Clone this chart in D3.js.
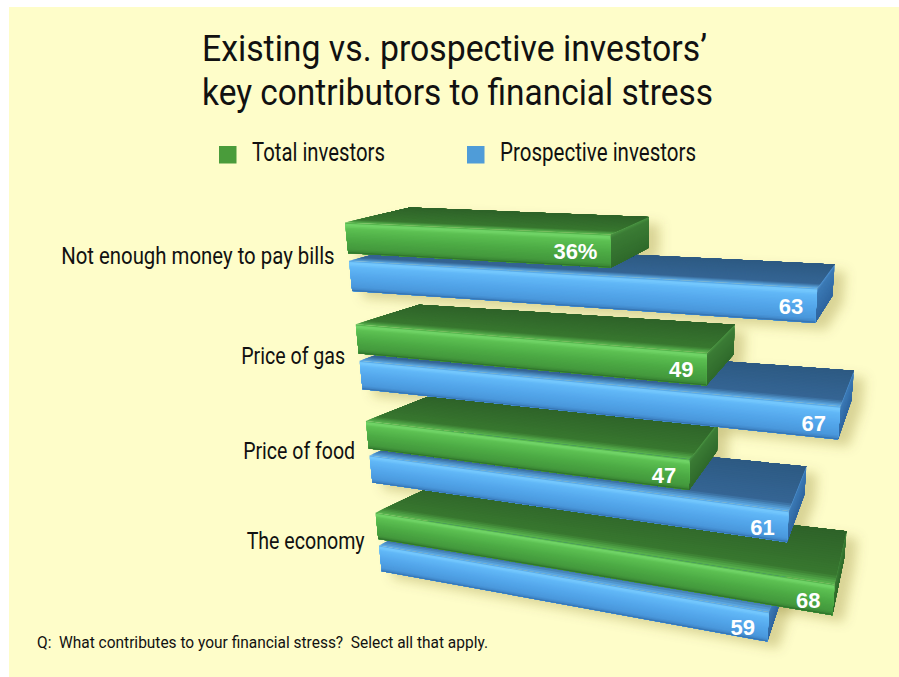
<!DOCTYPE html>
<html>
<head>
<meta charset="utf-8">
<script src="https://cdn.jsdelivr.net/npm/d3@7"></script>
<style>
  html, body { margin: 0; padding: 0; background: #ffffff; }
  svg { display: block; }
  .cond { font-family: Roboto, 'Liberation Sans Narrow', 'Liberation Sans', sans-serif; font-weight: 400; fill: #111111; white-space: pre; }
  .val  { font-family: 'Liberation Sans', Arial, Helvetica, sans-serif; font-weight: bold; fill: #ffffff; }
</style>
</head>
<body>
<svg id="chart" width="899" height="677"></svg>
<script>
// ---- data ---------------------------------------------------------------
const titleLines = ["Existing vs. prospective investors\u2019", "key contributors to financial stress"];
const categories = ["Not enough money to pay bills", "Price of gas", "Price of food", "The economy"];
const seriesNames = ["Total investors", "Prospective investors"];
const totalInvestors = [36, 49, 47, 68];
const prospectiveInvestors = [63, 67, 61, 59];
const footnote = "Q:  What contributes to your financial stress?  Select all that apply.";

// ---- layout ---------------------------------------------------------------
const seriesValues = [totalInvestors, prospectiveInvestors];
const titleLayout = [{ x: 202, y: 61, w: 505 }, { x: 202, y: 105, w: 511 }];
const legendLayout = [{ sx: 219, tx: 252, w: 133 }, { sx: 467, tx: 500, w: 196 }];
const categoryLabelWidths = [273.5, 104, 112, 118];

// front plane of the bars (value 0..70 across, rows down), as a warped quad
const frontQuad = [[345, 222.5], [876, 246.4], [381.7, 571.2], [843.5, 655.5]];
// depth offset from front face to back face, varying over the plane
const depthQuad = [[65, -15], [12, -20], [60, -31], [10, -61]];

const palette = {
  "Total investors": {
    swatch: "#4a9c3b",
    front: [[0, "#4aa842"], [0.07, "#74d86b"], [0.2, "#5cc052"], [0.55, "#4caa44"], [0.86, "#44993d"], [0.95, "#3a8735"], [1, "#2b6a28"]],
    top:   [[0, "#5ab850"], [0.18, "#38772f"], [1, "#2e6229"]],
    end:   [[0, "#4a9442"], [0.12, "#3b7c35"], [1, "#2f6a2b"]]
  },
  "Prospective investors": {
    swatch: "#4f9cd8",
    front: [[0, "#4f9fe0"], [0.07, "#78ccff"], [0.2, "#61b7f7"], [0.55, "#53a6ea"], [0.86, "#4a98dc"], [0.95, "#3f86c8"], [1, "#316ba5"]],
    top:   [[0, "#60b0ec"], [0.18, "#356594"], [1, "#2d5a83"]],
    end:   [[0, "#4d93d3"], [0.12, "#3b79b4"], [1, "#2f66a0"]]
  }
};

// ---- scales ---------------------------------------------------------------
const valueScale = d3.scaleLinear().domain([0, 70]).range([0, 1]);
const rowScale = d3.scaleBand().domain(categories).range([0, 1]).paddingInner(0.334).paddingOuter(0);
const seriesScale = d3.scaleBand().domain(seriesNames).range([0, rowScale.bandwidth()]).paddingInner(0.2);

const warpU = u => u / (1 + 0.06 * (1 - u));       // slight widening towards the near (right) side
const warpV = w => 1.1 * w / (1 + 0.1 * w);         // slight compression towards the bottom

function lerp2(a, b, t) { return [a[0] + (b[0] - a[0]) * t, a[1] + (b[1] - a[1]) * t]; }
function bilerp(q, u, v) { return lerp2(lerp2(q[0], q[1], u), lerp2(q[2], q[3], u), v); }
function frontPt(value, w) { return bilerp(frontQuad, warpU(valueScale(value)), warpV(w)); }
function backPt(value, w) {
  const u = warpU(valueScale(value)), v = warpV(w);
  const f = bilerp(frontQuad, u, v), d = bilerp(depthQuad, u, v);
  return [f[0] + d[0], f[1] + d[1]];
}
function ramp(stops) {
  return d3.scaleLinear().domain(stops.map(s => s[0])).range(stops.map(s => s[1])).interpolate(d3.interpolateRgb);
}
const line = d3.line();

// ---- drawing --------------------------------------------------------------
const svg = d3.select("#chart");
svg.append("rect").attr("x", 9).attr("y", 7).attr("width", 890).attr("height", 670).attr("fill", "#fefdc9");

const defs = svg.append("defs");
defs.append("filter").attr("id", "soft").attr("x", "-20%").attr("y", "-40%").attr("width", "140%").attr("height", "180%")
  .append("feGaussianBlur").attr("stdDeviation", 6);

// title
titleLines.forEach((t, i) => {
  svg.append("text").attr("class", "cond")
    .attr("x", titleLayout[i].x).attr("y", titleLayout[i].y)
    .attr("font-size", 37)
    .attr("textLength", titleLayout[i].w).attr("lengthAdjust", "spacingAndGlyphs")
    .text(t);
});

// legend
seriesNames.forEach((s, i) => {
  const L = legendLayout[i];
  svg.append("rect").attr("x", L.sx).attr("y", 146).attr("width", 17.5).attr("height", 17.5)
    .attr("fill", palette[s].swatch);
  svg.append("text").attr("class", "cond")
    .attr("x", L.tx).attr("y", 161).attr("font-size", 26)
    .attr("textLength", L.w).attr("lengthAdjust", "spacingAndGlyphs")
    .text(s);
});

// bar records
const bars = [];
categories.forEach((c, i) => {
  seriesNames.forEach((s, j) => {
    const wTop = rowScale(c) + seriesScale(s);
    bars.push({ cat: c, series: s, value: seriesValues[j][i], wTop, wBot: wTop + seriesScale.bandwidth(),
                label: (i === 0 && j === 0) ? seriesValues[j][i] + "%" : String(seriesValues[j][i]) });
  });
});
// paint from the lowest bar upwards so upper bars overlap the ones beneath
bars.sort((a, b) => b.wTop - a.wTop);

// soft shadows cast to the right
const shadowG = svg.append("g").attr("filter", "url(#soft)");
bars.forEach(b => {
  const pts = [frontPt(0, b.wTop), backPt(0, b.wTop), backPt(b.value, b.wTop), backPt(b.value, b.wBot),
               frontPt(b.value, b.wBot), frontPt(0, b.wBot)].map(p => [p[0] + 11, p[1] + 7]);
  shadowG.append("path").attr("d", line(pts) + "Z").attr("fill", "#6b5a00").attr("opacity", 0.26);
});

// A face is shaded by painting nested bands: band k covers t in [k/N, 1],
// so every band lies on top of the previous one and no seams show.
const N = 24;
function shadeFace(g, quadAt, colour) {
  for (let k = 0; k < N; k++) {
    const t0 = k / N;
    g.append("path").attr("d", line(quadAt(t0, 1)) + "Z").attr("fill", colour((k + 0.5) / N));
  }
}

const barsG = svg.append("g");
bars.forEach(b => {
  const g = barsG.append("g");
  const pal = palette[b.series];
  const frontC = ramp(pal.front), topC = ramp(pal.top), endC = ramp(pal.end);
  const wAt = t => b.wTop + (b.wBot - b.wTop) * t;

  // top face, from the front edge back to the rear edge
  const fl = frontPt(0, b.wTop), fr = frontPt(b.value, b.wTop), bl = backPt(0, b.wTop), br = backPt(b.value, b.wTop);
  shadeFace(g, (t0, t1) => [lerp2(fl, bl, t0), lerp2(fr, br, t0), lerp2(fr, br, t1), lerp2(fl, bl, t1)], topC);

  // right end face
  shadeFace(g, (t0, t1) => [frontPt(b.value, wAt(t0)), backPt(b.value, wAt(t0)), backPt(b.value, wAt(t1)), frontPt(b.value, wAt(t1))], endC);

  // front face
  shadeFace(g, (t0, t1) => [frontPt(0, wAt(t0)), frontPt(b.value, wAt(t0)), frontPt(b.value, wAt(t1)), frontPt(0, wAt(t1))], frontC);

  // value label at the near end of the front face
  const mid = frontPt(b.value, (b.wTop + b.wBot) / 2);
  g.append("text").attr("class", "val")
    .attr("x", mid[0] - 13).attr("y", mid[1] + 8)
    .attr("text-anchor", "end").attr("font-size", 22)
    .text(b.label);
});

// category labels, aligned to the left edge of each group
categories.forEach((c, i) => {
  const p = frontPt(0, rowScale(c) + rowScale.bandwidth() / 2);
  svg.append("text").attr("class", "cond")
    .attr("x", p[0] - 14).attr("y", p[1] + 7)
    .attr("text-anchor", "end").attr("font-size", 23.5)
    .attr("textLength", categoryLabelWidths[i]).attr("lengthAdjust", "spacingAndGlyphs")
    .text(c);
});

// footnote
svg.append("text").attr("class", "cond")
  .attr("x", 37).attr("y", 648).attr("font-size", 17)
  .attr("textLength", 451).attr("lengthAdjust", "spacingAndGlyphs")
  .text(footnote);
</script>
</body>
</html>
